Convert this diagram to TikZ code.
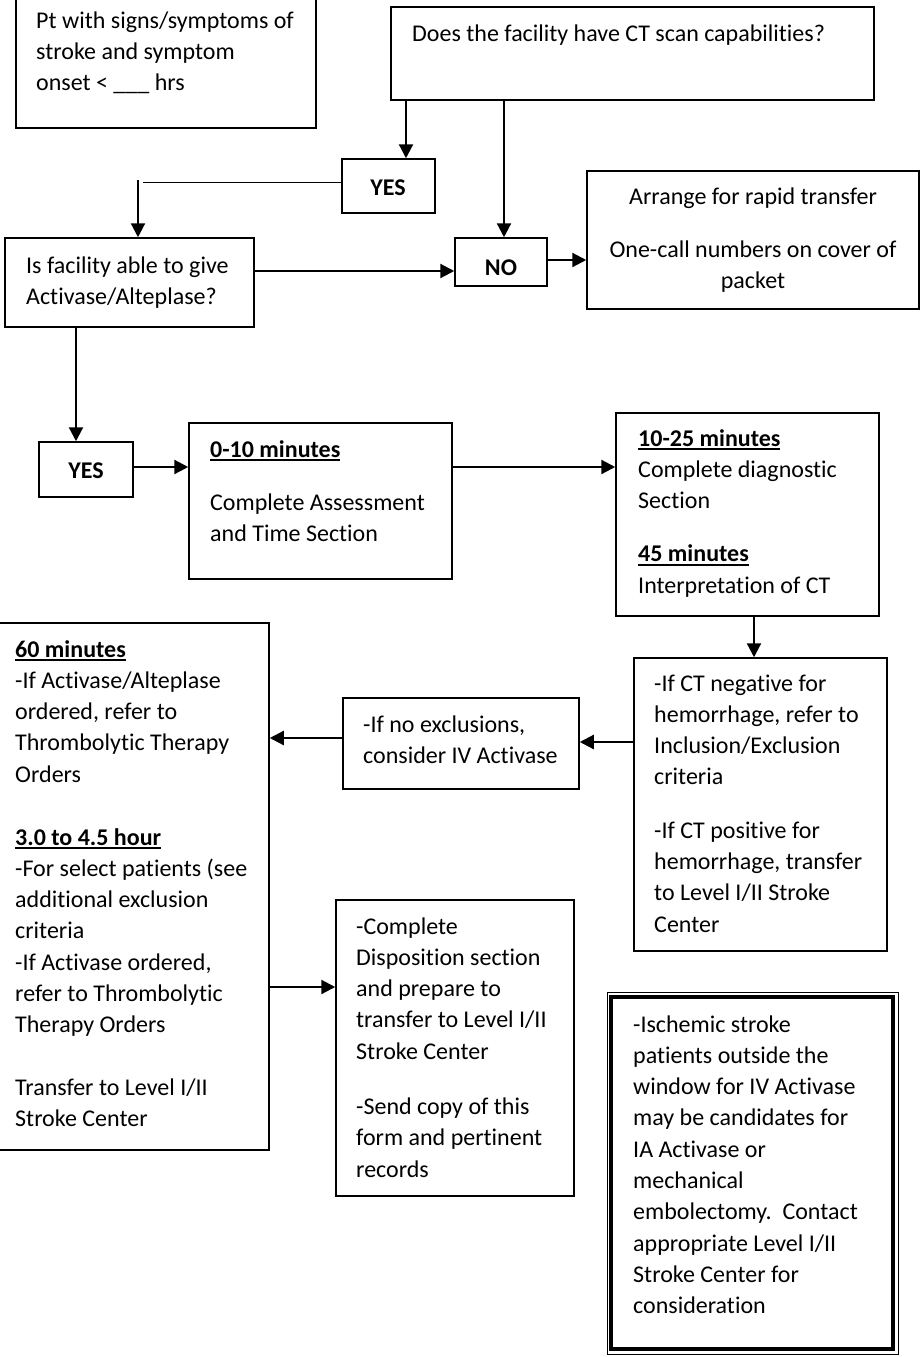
\documentclass[tikz,border=0pt]{standalone}
\usepackage{fontspec}
\setmainfont{Carlito}[Ligatures=NoCommon]
\newcommand\myul[1]{\leavevmode\setbox0=\hbox{#1}\rlap{\rule[-3.6pt]{\wd0}{1.6pt}}\box0}
\usetikzlibrary{arrows.meta,fit}
\tikzset{
  box/.style={draw,line width=1.5pt,inner sep=0pt},
  txt/.style={inner sep=0pt,anchor=base west,text width=470pt,align=flush left,
    font=\fontsize{24}{31.3}\selectfont},
  ctxt/.style={txt,anchor=base,align=flush center},
  arr/.style={line width=2.2pt,-{Triangle[length=14pt,width=14pt]}},
  thinln/.style={line width=1pt}
}
\begin{document}
\begin{tikzpicture}[x=1pt,y=-1pt]
\clip (0,0) rectangle (921,1357);
\fill[white] (0,0) rectangle (921,1357);
% boxes
\node[box,fit={(16,-5) (316,128)}] (box1) {};
\node[box,fit={(391,7) (874,100)}] (box2) {};
\node[box,fit={(342,159) (435,213)}] (yes1) {};
\node[box,fit={(5,238) (254,327)}] (box3) {};
\node[box,fit={(455,238) (547,286)}] (no) {};
\node[box,fit={(587,171) (919,309)}] (arrange) {};
\node[box,fit={(39,442) (133,497)}] (yes2) {};
\node[box,fit={(189,423) (452,579)}] (b010) {};
\node[box,fit={(616,413) (879,616)}] (b1025) {};
\node[box,fit={(634,658) (887,951)}] (ct) {};
\node[box,fit={(343,698) (579,789)}] (noex) {};
\node[box,fit={(-5,623) (269,1150)}] (b60) {};
\node[box,fit={(336,900) (574,1196)}] (disp) {};
\node[draw,line width=1pt,inner sep=0pt,fit={(607,992) (898.5,1354)}] (dblout) {};
\node[draw,line width=4pt,inner sep=0pt,fit={(611,997) (893,1349)}] (dbl) {};
% texts
\node[txt] (t1) at (36,28) {Pt with signs/symptoms of\\stroke and symptom\\onset < \_\_\_ hrs};
\node[txt] (t2) at (412,41) {Does the facility have CT scan capabilities?};
\node[ctxt] (ty1) at (388,195) {\textbf{YES}};
\node[ctxt] (tno) at (501,275) {\textbf{NO}};
\node[ctxt] (tarr) at (753,204) {Arrange for rapid transfer\\[22pt]One-call numbers on cover of\\packet};
\node[txt] (t3) at (26,273) {Is facility able to give\\Activase/Alteplase?};
\node[ctxt] (ty2) at (86,478) {\textbf{YES}};
\node[txt] (t010) at (210,457) {\myul{\textbf{0-10 minutes}}\\[22pt]Complete Assessment\\and Time Section};
\node[txt] (t1025) at (638,446) {\myul{\textbf{10-25 minutes}}\\Complete diagnostic\\Section\\[22pt]\myul{\textbf{45 minutes}}\\Interpretation of CT};
\node[txt] (tct) at (654,691) {-If CT negative for\\hemorrhage, refer to\\Inclusion/Exclusion\\criteria\\[22pt]-If CT positive for\\hemorrhage, transfer\\to Level I/II Stroke\\Center};
\node[txt] (tnoex) at (363,732) {-If no exclusions,\\consider IV Activase};
\node[txt] (t60) at (15,657) {\myul{\textbf{60 minutes}}\\-If Activase/Alteplase\\ordered, refer to\\Thrombolytic Therapy\\Orders\\[31.5pt]\myul{\textbf{3.0 to 4.5 hour}}\\-For select patients (see\\additional exclusion\\criteria\\-If Activase ordered,\\refer to Thrombolytic\\Therapy Orders\\[31.5pt]Transfer to Level I/II\\Stroke Center};
\node[txt] (tdisp) at (356,934) {-Complete\\Disposition section\\and prepare to\\transfer to Level I/II\\Stroke Center\\[24pt]-Send copy of this\\form and pertinent\\records};
\node[txt] (tdbl) at (633,1032) {-Ischemic stroke\\patients outside the\\window for IV Activase\\may be candidates for\\IA Activase or\\mechanical\\embolectomy.\ \ Contact\\appropriate Level I/II\\Stroke Center for\\consideration};
% connectors
\coordinate (k1) at (143,182);
\coordinate (k2) at (138,180);
\draw[arr] (box2.south -| 406,0) -- (yes1.north -| 406,0);
\draw[thinln] (yes1.west |- k1) -- (k1);
\draw[arr] (k2) -- (box3.north -| k2);
\draw[arr] (box3.east |- 0,271) -- (no.west |- 0,271);
\draw[arr] (box2.south -| 504,0) -- (no.north -| 504,0);
\draw[arr] (no.east |- 0,260) -- (arrange.west |- 0,260);
\draw[arr] (box3.south -| 76,0) -- (yes2.north -| 76,0);
\draw[arr] (yes2.east |- 0,467) -- (b010.west |- 0,467);
\draw[arr] (b010.east |- 0,467) -- (b1025.west |- 0,467);
\draw[arr] (b1025.south -| 754,0) -- (ct.north -| 754,0);
\draw[arr] (ct.west |- 0,742) -- (noex.east |- 0,742);
\draw[arr] (noex.west |- 0,738) -- (b60.east |- 0,738);
\draw[arr] (b60.east |- 0,987) -- (disp.west |- 0,987);
\end{tikzpicture}
\end{document}
